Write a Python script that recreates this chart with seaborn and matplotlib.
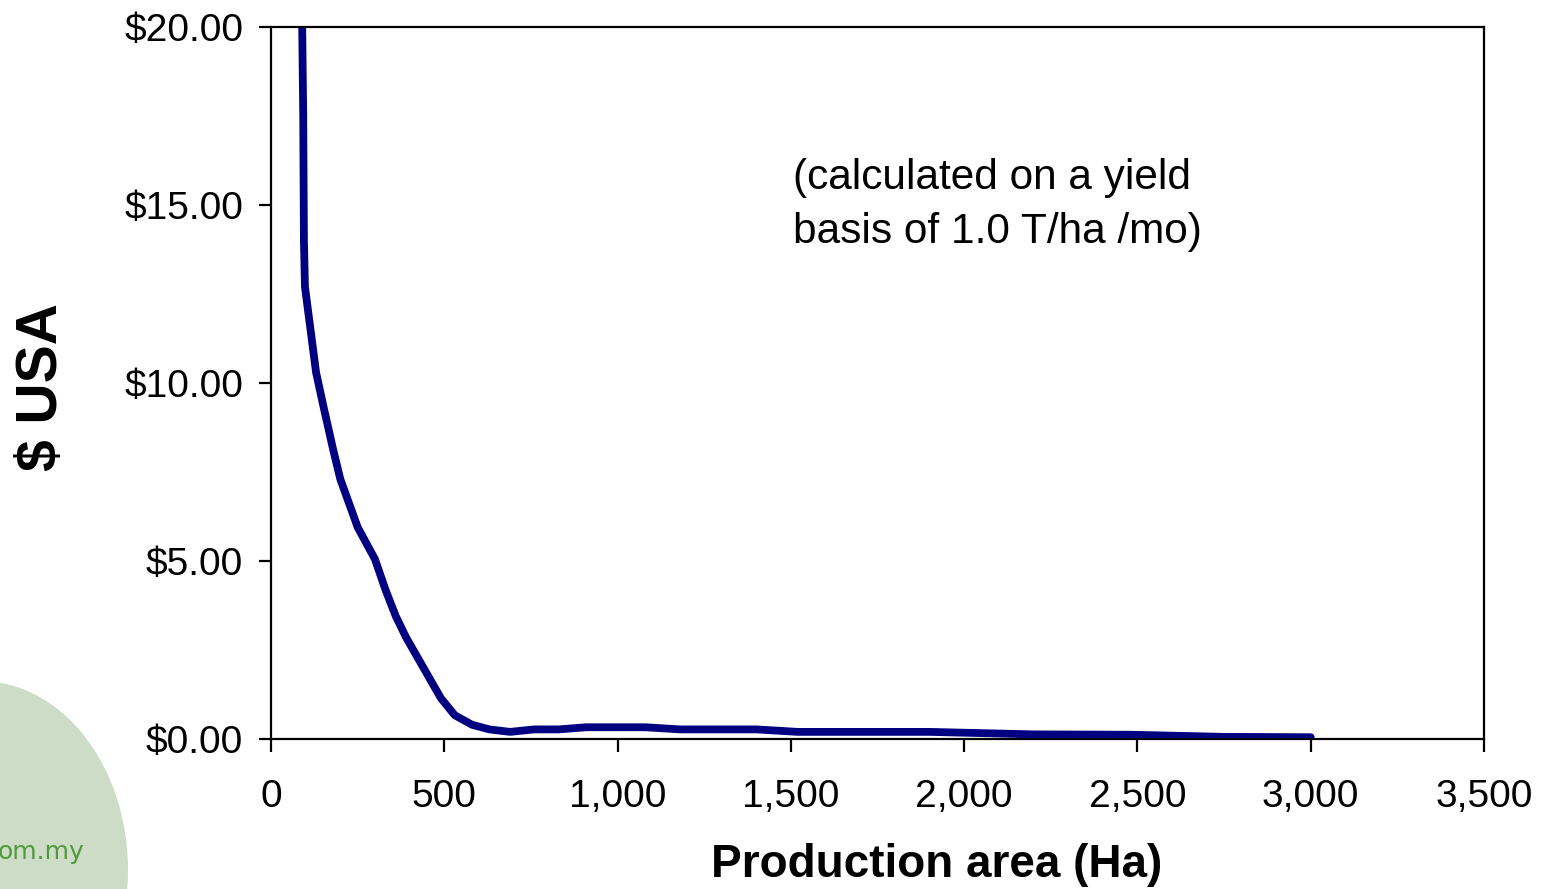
import matplotlib
matplotlib.use("Agg")
import matplotlib.pyplot as plt
import matplotlib.patches as mpatches
import matplotlib.ticker as mticker
import seaborn as sns
import pandas as pd

# ---- data ----
area_ha = [90, 93, 95, 98, 130, 150, 180, 200, 250, 300, 330, 360, 390, 440,
           490, 530, 580, 630, 690, 760, 830, 910, 1080, 1180, 1400, 1520,
           1900, 2200, 2480, 2750, 3000]
cost_usd = [20.0, 17.5, 14.0, 12.7, 10.3, 9.4, 8.1, 7.3, 5.95, 5.05, 4.2, 3.45,
            2.85, 2.0, 1.15, 0.67, 0.40, 0.27, 0.20, 0.27, 0.27, 0.33, 0.33,
            0.27, 0.27, 0.20, 0.20, 0.13, 0.12, 0.06, 0.05]
x_ticks = [0, 500, 1000, 1500, 2000, 2500, 3000, 3500]
y_ticks = [0, 5, 10, 15, 20]
annotation = "(calculated on a yield\nbasis of 1.0 T/ha /mo)"
x_label = "Production area (Ha)"
y_label = "$ USA"
watermark = "om.my"

sns.set_theme(style="white")
plt.rcParams['font.family'] = ['Liberation Sans', 'DejaVu Sans']

W, H = 1549, 889
fig = plt.figure(figsize=(W / 100, H / 100), dpi=100)
fig.patch.set_facecolor("white")

# decorative green shape bottom-left
ell = mpatches.Ellipse((-20 / W, 1 - 870 / H), 296 / W, 378 / H,
                       transform=fig.transFigure, facecolor="#cddcc6",
                       edgecolor="none", zorder=0)
fig.patches.append(ell)
fig.text(-2 / W, 1 - 852 / H, watermark, color="#4f9a3a", fontsize=18,
         family="DejaVu Sans", va="center", ha="left")

ax = fig.add_axes([271 / W, 1 - 739 / H, (1484 - 271) / W, (739 - 27) / H])
ax.set_facecolor("none")

df = pd.DataFrame({"area": area_ha, "cost": cost_usd})
sns.lineplot(data=df, x="area", y="cost", ax=ax, color="#000080",
             linewidth=5.6, sort=False, estimator=None)

ax.set_xlim(0, 3500)
ax.set_ylim(0, 20)
ax.set_xticks(x_ticks)
ax.set_yticks(y_ticks)
ax.xaxis.set_major_formatter(mticker.FuncFormatter(lambda v, p: f"{int(v):,}"))
ax.yaxis.set_major_formatter(mticker.FuncFormatter(lambda v, p: f"${v:.2f}"))

for s in ax.spines.values():
    s.set_color("black")
    s.set_linewidth(1.6)
    s.set_visible(True)

ax.tick_params(axis="x", direction="out", length=9, width=1.6, color="black",
               labelsize=28, pad=20, bottom=True)
ax.tick_params(axis="y", direction="out", length=9, width=1.6, color="black",
               labelsize=28, pad=11, left=True)
for lab in ax.get_xticklabels() + ax.get_yticklabels():
    lab.set_color("black")

ax.set_xlabel("")
ax.set_ylabel("")
fig.text(937 / W, 1 - 865 / H, x_label, fontsize=33, fontweight="bold",
         ha="center", va="center", color="black")
fig.text(42 / W, 1 - 387 / H, y_label, fontsize=41, fontweight="bold",
         ha="center", va="center", rotation=90, color="black")

ax.text(793 / W, 1 - 158 / H, annotation, transform=fig.transFigure,
        fontsize=30.5, ha="left", va="top", color="black", linespacing=1.45)

fig.savefig("out.png", dpi=100, facecolor="white")
